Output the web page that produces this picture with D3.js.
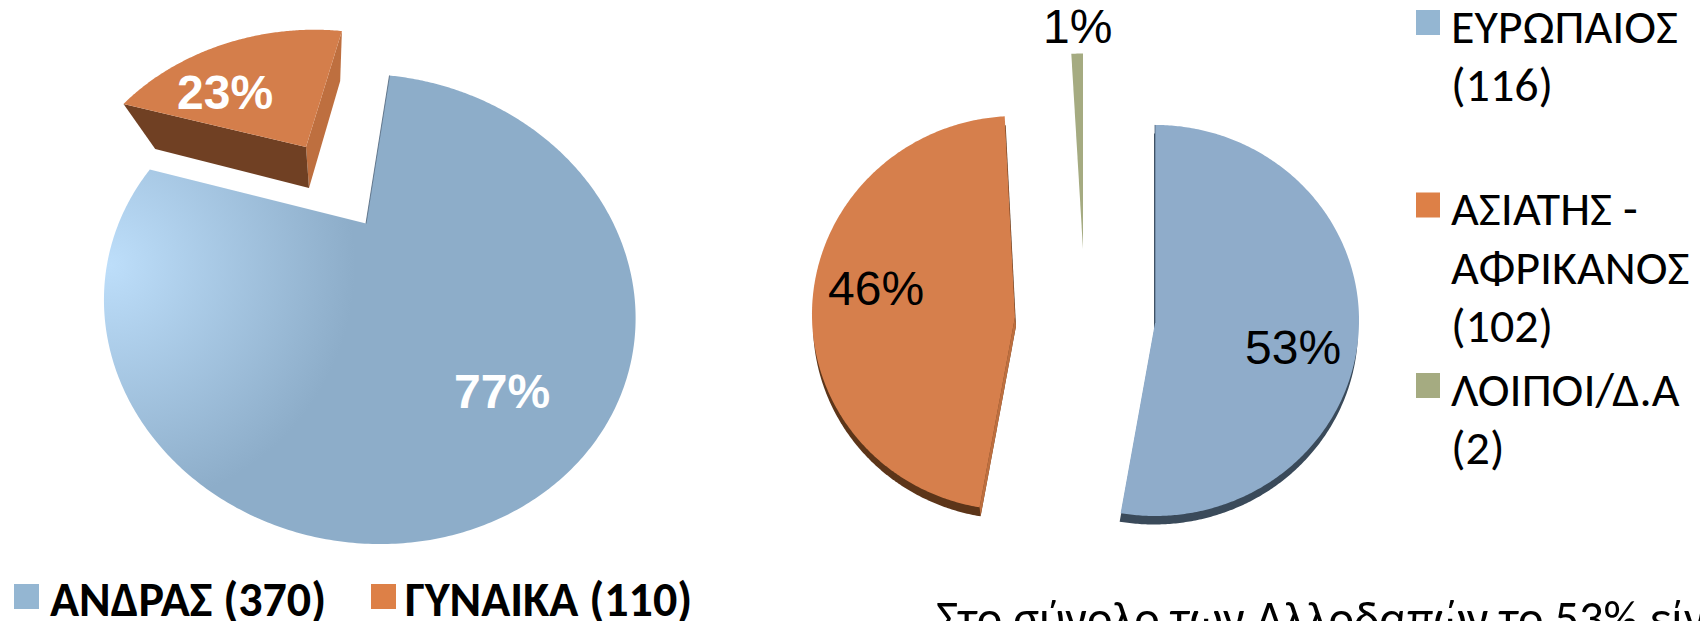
<!DOCTYPE html>
<html><head><meta charset="utf-8">
<script src="https://cdnjs.cloudflare.com/ajax/libs/d3/7.8.5/d3.min.js"></script>
<style>html,body{margin:0;padding:0;background:#fff;overflow:hidden}svg{display:block}</style>
</head><body><svg id="c" width="1700" height="621"></svg>
<script>
const sexLabels = ["ΑΝΔΡΑΣ (370)", "ΓΥΝΑΙΚΑ (110)"];
const sexValues = [370, 110];
const sexPercents = ["77%", "23%"];
const originLabels = [["ΕΥΡΩΠΑΙΟΣ", "(116)"], ["ΑΣΙΑΤΗΣ -", "ΑΦΡΙΚΑΝΟΣ", "(102)"], ["ΛΟΙΠΟΙ/Δ.Α", "(2)"]];
const originValues = [116, 102, 2];
const originPercents = ["53%", "46%", "1%"];
const noteText = "Στο σύνολο των Αλλοδαπών το 53% είναι";

const svg = d3.select("#c");
const sansCal = "Carlito, Calibri, Lato, 'Open Sans', 'Noto Sans', sans-serif";
const sansAr = "'Liberation Sans', Arial, sans-serif";
const defs = svg.append("defs");
const grad = defs.append("radialGradient").attr("id", "blueGlow")
  .attr("gradientUnits", "userSpaceOnUse").attr("cx", 110).attr("cy", 265).attr("r", 245);
grad.append("stop").attr("offset", 0).attr("stop-color", "#BDDEFA");
grad.append("stop").attr("offset", 1).attr("stop-color", "#8DADC9");

function disc(o) {
  return (t, r = 1) => {
    const u = Math.sin(t) * r, v = -Math.cos(t) * r, w = 1 + o.k * v;
    let dx = (o.a * u + (o.c || 0) * v) / w, dy = o.b * v / w;
    const m = o.m || [1, 0, 0, 1];
    return [o.x + m[0] * dx + m[1] * dy + (o.ox || 0), o.y + m[2] * dx + m[3] * dy + (o.oy || 0)];
  };
}
const lineGen = d3.line();
function slicePts(p, d) {
  const n = Math.max(2, Math.ceil((d.endAngle - d.startAngle) / 0.01));
  const arc = d3.range(n + 1).map(i => p(d.startAngle + (d.endAngle - d.startAngle) * i / n));
  return [p(0, 0), ...arc];
}
const slicePath = (p, d) => lineGen(slicePts(p, d)) + "Z";
const deg = a => a * Math.PI / 180;

/* ---------- left pie ---------- */
const leftPie = d3.pie().sort(null).startAngle(deg(9.5)).endAngle(deg(369.5));
const leftArcs = leftPie(sexValues);
const lBase = {k: -0.364, a: 247.4, b: 203.9, c: 9};
const pBlue = disc({...lBase, x: 366, y: 223.5});
const pTop = disc({...lBase, c: 5, x: 306, y: 147, m: [0.870, -0.0873, 0.0038, 0.7844]});
const pBot = disc({...lBase, c: 5, x: 309, y: 188, m: [0.7346, -0.0796, 0.0002, 0.723]});
const gL = svg.append("g");
const man = leftArcs[0], woman = leftArcs[1];
gL.append("path").attr("d", slicePath(pBlue, man)).attr("fill", "url(#blueGlow)");
gL.append("line").attr("x1", pBlue(man.startAngle)[0]).attr("y1", pBlue(man.startAngle)[1])
  .attr("x2", pBlue(0, 0)[0]).attr("y2", pBlue(0, 0)[1]).attr("stroke", "#4A6076").attr("stroke-width", 0.8);
const quad = (a, b, c, e, fill) => gL.append("path").attr("d", lineGen([a, b, c, e]) + "Z").attr("fill", fill);
quad(pTop(0, 0), pTop(woman.endAngle), pBot(woman.endAngle), pBot(0, 0), "#BE6F3F");
quad(pTop(woman.startAngle), pTop(0, 0), pBot(0, 0), pBot(woman.startAngle), "#704023");
gL.append("path").attr("d", slicePath(pTop, woman)).attr("fill", "#D47E4B");

const bigLabel = (g, x, y, t, weight, fill) => g.append("text").attr("x", x).attr("y", y).text(t)
  .attr("font-family", sansAr).attr("font-size", 48).attr("font-weight", weight).attr("fill", fill);
bigLabel(gL, 454, 408, sexPercents[0], 700, "#fff");
bigLabel(gL, 177, 109, sexPercents[1], 700, "#fff");

const legSwatch = ["#94B6D2", "#DD8047", "#A5AB81"];
const legX = [[14, 50], [371, 405]];
sexLabels.forEach((t, i) => {
  gL.append("rect").attr("x", legX[i][0]).attr("y", 584).attr("width", 25).attr("height", 25).attr("fill", legSwatch[i]);
  gL.append("text").attr("x", legX[i][1]).attr("y", 616).text(t)
    .attr("font-family", sansCal).attr("font-weight", 700).attr("font-size", 48).attr("fill", "#000");
});

/* ---------- right pie ---------- */
const rightArcs = d3.pie().sort(null)(originValues);
const pR = [
  disc({k: 0.013, a: 204, b: 195.5, x: 1155, y: 323}),
  disc({k: 0.02, a: 203, b: 197, c: -1.5, x: 1015, y: 317}),
  disc({k: 0, a: 205, b: 196, x: 1083, y: 249.5})
];
const pRd = [
  disc({k: 0.013, a: 204, b: 195.5, x: 1155, y: 323, ox: -1, oy: 8.5}),
  disc({k: 0.02, a: 203, b: 197, c: -1.5, x: 1015, y: 317, ox: 1, oy: 9}),
  null
];
const rFill = ["#8FACCA", "#D67F4C", "#A5AB81"];
const rDepth = ["#3A4A5A", "#5C3519"];
const gR = svg.append("g");
rightArcs.forEach((d, i) => {
  if (pRd[i]) gR.append("path").attr("d", slicePath(pRd[i], d)).attr("fill", rDepth[i]);
  if (i === 1) gR.append("path").attr("d", lineGen([pR[1](0, 0), pR[1](d.startAngle), pRd[1](d.startAngle), pRd[1](0, 0)]) + "Z").attr("fill", "#BE6F3F");
  gR.append("path").attr("d", slicePath(pR[i], d)).attr("fill", rFill[i]);
  if (i === 0) gR.append("line").attr("x1", pR[0](0)[0]).attr("y1", pR[0](0)[1]).attr("x2", pR[0](0, 0)[0]).attr("y2", pR[0](0, 0)[1])
    .attr("stroke", "#4A6076").attr("stroke-width", 0.8);
});
bigLabel(gR, 1245, 364, originPercents[0], 400, "#000");
bigLabel(gR, 828, 305, originPercents[1], 400, "#000");
bigLabel(gR, 1043, 43, originPercents[2], 400, "#000");

const swatchY = [10, 192.5, 373];
const lineY = [[43, 101], [225, 284, 342], [406, 464]];
originLabels.forEach((lines, i) => {
  gR.append("rect").attr("x", 1416).attr("y", swatchY[i]).attr("width", 24).attr("height", 25).attr("fill", legSwatch[i]);
  lines.forEach((t, j) => gR.append("text").attr("x", 1451).attr("y", lineY[i][j]).text(t)
    .attr("font-family", sansCal).attr("font-size", 48).attr("fill", "#000"));
});
gR.append("text").attr("x", 936).attr("y", 635).text(noteText)
  .attr("font-family", sansCal).attr("font-size", 48.5).attr("fill", "#000");
</script></body></html>
